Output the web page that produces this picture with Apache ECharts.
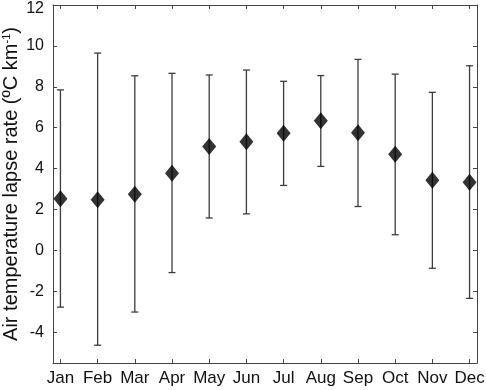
<!DOCTYPE html>
<html>
<head>
<meta charset="utf-8">
<script src="https://cdn.jsdelivr.net/npm/echarts@6/dist/echarts.min.js"></script>
<style>
	html, body { margin: 0; padding: 0; background: #fff; }
	#chart { width: 486px; height: 390px; }
</style>
</head>
<body>
<div id="chart"></div>
<script>
	const months = ['Jan', 'Feb', 'Mar', 'Apr', 'May', 'Jun', 'Jul', 'Aug', 'Sep', 'Oct', 'Nov', 'Dec']
	const meanRate = [2.53, 2.48, 2.75, 3.78, 5.08, 5.31, 5.73, 6.34, 5.75, 4.70, 3.43, 3.34]
	const upperRate = [7.85, 9.65, 8.54, 8.66, 8.58, 8.82, 8.27, 8.55, 9.34, 8.62, 7.73, 9.03]
	const lowerRate = [-2.77, -4.63, -3.01, -1.08, 1.59, 1.79, 3.18, 4.11, 2.15, 0.77, -0.87, -2.34]
	const yTicks = [-4, -2, 0, 2, 4, 6, 8, 10, 12]
	const monthTicks = [1, 2, 3, 4, 5, 6, 7, 8, 9, 10, 11, 12]

	const chart = echarts.init(document.getElementById('chart'))

	const axisColor = '#444'
	const font = 'Liberation Sans'

	const points = months.map((m, i) => [i + 1, meanRate[i]])
	const bars = months.map((m, i) => [i + 1, lowerRate[i], upperRate[i]])

	const tick = (vals) => ({ show: true, inside: true, length: 4, lineStyle: { color: axisColor }, customValues: vals })
	const line = { show: true, onZero: false, lineStyle: { color: axisColor, width: 1 } }

	chart.setOption({
		animation: false,
		grid: { left: 53, right: 9, top: 5, bottom: 27, outerBoundsMode: 'none', containLabel: false },
		xAxis: [
			{
				type: 'value', min: 0.8, max: 12.2, position: 'bottom',
				splitLine: { show: false }, axisLine: line, axisTick: tick(monthTicks),
				axisLabel: {
					customValues: monthTicks,
					formatter: v => months[Math.round(v) - 1],
					margin: 7, color: '#111', fontFamily: font, fontSize: 17
				}
			},
			{
				type: 'value', min: 0.8, max: 12.2, position: 'top',
				splitLine: { show: false }, axisLine: line, axisTick: tick(monthTicks),
				axisLabel: { show: false }
			}
		],
		yAxis: [
			{
				type: 'value', min: -5.5, max: 12, position: 'left',
				splitLine: { show: false }, axisLine: line, axisTick: tick(yTicks),
				axisLabel: {
					customValues: yTicks, margin: 9, color: '#111', fontFamily: font, fontSize: 16,
					// keep the top label inside the canvas
					formatter: v => v === 12 ? '{top|12}' : String(v),
					rich: { top: { padding: [8, 0, 0, 0], color: '#111', fontFamily: font, fontSize: 16 } }
				},
				name: 'Air temperature lapse rate (ºC km{sup|-1})',
				nameLocation: 'middle',
				nameGap: 31,
				nameMoveOverlap: false,
				nameTextStyle: {
					color: '#111', fontFamily: font, fontSize: 20,
					rich: { sup: { fontSize: 11, color: '#111', fontFamily: font, padding: [0, 0, 10, 0] } }
				}
			},
			{
				type: 'value', min: -5.5, max: 12, position: 'right',
				splitLine: { show: false }, axisLine: line, axisTick: tick(yTicks),
				axisLabel: { show: false }
			}
		],
		series: [
			{
				type: 'custom',
				data: bars,
				encode: { x: 0, y: [1, 2] },
				renderItem: (params, api) => {
					const x = api.value(0)
					const lo = api.coord([x, api.value(1)])
					const hi = api.coord([x, api.value(2)])
					const cap = 3.5
					const style = { stroke: '#3c3c3c', lineWidth: 1.3 }
					return {
						type: 'group',
						children: [
							{ type: 'line', shape: { x1: lo[0], y1: lo[1], x2: hi[0], y2: hi[1] }, style },
							{ type: 'line', shape: { x1: lo[0] - cap, y1: lo[1], x2: lo[0] + cap, y2: lo[1] }, style },
							{ type: 'line', shape: { x1: hi[0] - cap, y1: hi[1], x2: hi[0] + cap, y2: hi[1] }, style }
						]
					}
				},
				z: 2
			},
			{
				type: 'scatter',
				data: points,
				symbol: 'diamond',
				symbolSize: [14, 17],
				itemStyle: { color: '#000' },
				z: 3
			}
		]
	})
</script>
</body>
</html>
